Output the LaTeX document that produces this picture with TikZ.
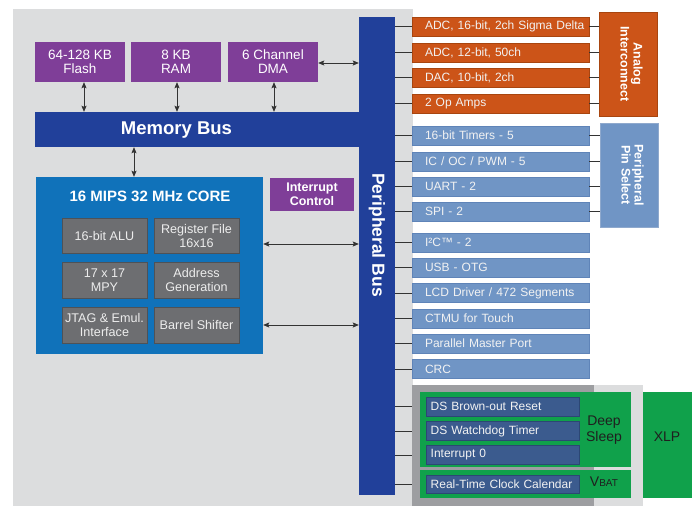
\documentclass[tikz,border=0pt]{standalone}
\usepackage{fontspec}
\setmainfont{Liberation Sans}
\usetikzlibrary{arrows.meta}
\definecolor{bggray}{HTML}{DCDDDE}
\definecolor{purp}{HTML}{7F3E98}
\definecolor{busblue}{HTML}{21409A}
\definecolor{coreblue}{HTML}{1072BA}
\definecolor{cgray}{HTML}{6D6E71}
\definecolor{cgrayb}{HTML}{4E5257}
\definecolor{orng}{HTML}{CC5418}
\definecolor{orngb}{HTML}{A8450F}
\definecolor{lblue}{HTML}{7095C5}
\definecolor{lblueb}{HTML}{5F84B8}
\definecolor{dgray}{HTML}{9D9EA1}
\definecolor{grn}{HTML}{10A14B}
\definecolor{dblue}{HTML}{3B5B8E}
\definecolor{dblueb}{HTML}{2C4774}
\definecolor{linec}{HTML}{333333}
\begin{document}
\begin{tikzpicture}[x=1pt,y=-1pt,
  pbox/.style={rectangle, inner sep=0pt, align=center, text=white, fill=purp,
    font=\fontsize{13.5}{14}\selectfont},
  bus/.style={rectangle, inner sep=0pt, fill=busblue},
  bustext/.style={text=white, font=\bfseries\fontsize{18.5}{18.5}\selectfont, inner sep=0pt},
  cbox/.style={rectangle, inner sep=0pt, align=center, text=white!93!black, fill=cgray,
    draw=cgrayb, line width=1pt, minimum width=85pt, minimum height=35pt,
    font=\fontsize{12.6}{14}\selectfont},
  rowbox/.style={rectangle, minimum width=177pt, minimum height=19pt, text width=177pt,
    inner xsep=0pt, inner ysep=0pt, align=left, text=white!95!black, line width=0.8pt,
    font=\fontsize{12}{12}\selectfont, execute at begin node={\hspace*{13pt}}},
  orow/.style={rowbox, fill=orng, draw=orngb},
  brow/.style={rowbox, fill=lblue, draw=lblueb},
  dsrow/.style={rectangle, minimum width=153pt, minimum height=19pt, text width=153pt,
    inner xsep=0pt, inner ysep=0pt, align=left, text=white!95!black, fill=dblue,
    draw=dblueb, line width=0.8pt, font=\fontsize{12}{12}\selectfont,
    execute at begin node={\hspace*{4.7pt}}},
  sidebox/.style={rectangle, inner sep=0pt, minimum width=58pt, minimum height=104pt, line width=0.8pt},
  sidetext/.style={rotate=-90, align=center, text=white, font=\bfseries\fontsize{12.5}{13}\selectfont},
  conn/.style={draw=linec, line width=1pt},
  darr/.style={draw=linec, line width=0.9pt, {Stealth[length=6pt,width=5pt,inset=1pt]}-{Stealth[length=6pt,width=5pt,inset=1pt]}},
  gtext/.style={text=black!88, inner sep=0pt, align=center, font=\fontsize{14}{16}\selectfont}
]
\useasboundingbox (0,0) rectangle (696,506);
% background
\fill[bggray] (13,9) rectangle (413,506);
\node[rectangle, fill=bggray, inner sep=0pt, minimum width=231pt, minimum height=121pt] (dsbg) at (527.5,445.5) {};
\node[rectangle, fill=dgray, inner sep=0pt, minimum width=182pt, minimum height=121pt] (dsreg) at (503,445.5) {};

% buses
\node[bus, minimum width=324pt, minimum height=35pt] (mbus) at (197,129.5) {};
\node[bus, minimum width=36pt, minimum height=478pt] (pbus) at (377,256) {};
\node[bustext] (mbustxt) at (176.5,130) {Memory Bus};
\node[bustext, rotate=-90, font=\bfseries\fontsize{17.5}{17.5}\selectfont] (pbustxt) at (377,235) {Peripheral Bus};

% memories
\node[pbox, minimum width=90pt, minimum height=40pt] (flash) at (80,62) {64-128 KB\\Flash};
\node[pbox, minimum width=90pt, minimum height=40pt] (ram) at (176,62) {8 KB\\RAM};
\node[pbox, minimum width=90pt, minimum height=40pt] (dma) at (273,62) {6 Channel\\DMA};

\draw[darr] ([xshift=4pt]flash.south) -- ([xshift=4pt]flash.south |- mbus.north);
\draw[darr] ([xshift=1pt]ram.south) -- ([xshift=1pt]ram.south |- mbus.north);
\draw[darr] ([xshift=1pt]dma.south) -- ([xshift=1pt]dma.south |- mbus.north);
\draw[darr] ([yshift=-1pt]dma.east) -- ([yshift=-1pt]pbus.west |- dma.east);

% core
\node[rectangle, fill=coreblue, inner sep=0pt, minimum width=227pt, minimum height=177pt] (core) at (149.5,265.5) {};
\node[text=white, inner sep=0pt, font=\bfseries\fontsize{15}{15}\selectfont] (coretitle) at (150,196) {16 MIPS 32 MHz CORE};
\node[cbox] (alu) at (104.5,235.5) {16-bit ALU};
\node[cbox] (regf) at (196.5,235.5) {Register File\\16x16};
\node[cbox, minimum height=36pt] (mpy) at (104.5,280) {17 x 17\\MPY};
\node[cbox, minimum height=36pt] (agen) at (196.5,280) {Address\\Generation};
\node[cbox, minimum height=36pt] (jtag) at (104.5,325) {JTAG \& Emul.\\Interface};
\node[cbox, minimum height=36pt] (bshift) at (196.5,325) {Barrel Shifter};

\node[pbox, minimum width=84pt, minimum height=33pt, font=\bfseries\fontsize{12.5}{14}\selectfont] (intc) at (312,194.5) {Interrupt\\Control};

\draw[darr] ([xshift=-15.5pt]core.north) -- ([xshift=-15.5pt]core.north |- mbus.south);
\draw[darr] ([yshift=21.5pt]core.east) -- ([yshift=21.5pt]pbus.west |- core.east);
\draw[darr] ([yshift=-59.5pt]core.east) -- ([yshift=-59.5pt]pbus.west |- core.east);

% analog peripherals
\node[orow] (adc16) at (500.5,26.5) {ADC, 16-bit, 2ch Sigma Delta};
\node[orow] (adc12) at (500.5,52.5) {ADC, 12-bit, 50ch};
\node[orow] (dac) at (500.5,77.5) {DAC, 10-bit, 2ch};
\node[orow] (opamp) at (500.5,103.5) {2 Op Amps};
\node[sidebox, fill=orng, draw=orngb] (analog) at (628,64) {};
\node[sidetext] (analogt) at (631.5,64) {Analog\\Interconnect};

% digital peripherals
\node[brow] (tmr) at (500.5,135.5) {16-bit Timers - 5};
\node[brow] (icoc) at (500.5,161.5) {IC / OC / PWM - 5};
\node[brow] (uart) at (500.5,186.5) {UART - 2};
\node[brow] (spi) at (500.5,211.5) {SPI - 2};
\node[brow] (i2c) at (500.5,242.5) {I²C™ - 2};
\node[brow] (usb) at (500.5,267.5) {USB - OTG};
\node[brow] (lcd) at (500.5,293) {LCD Driver / 472 Segments};
\node[brow] (ctmu) at (500.5,318.5) {CTMU for Touch};
\node[brow] (pmp) at (500.5,343.5) {Parallel Master Port};
\node[brow] (crc) at (500.5,369) {CRC};
\node[sidebox, fill=lblue, draw=lblueb!70!white] (pps) at (629,175) {};
\node[sidetext] (ppst) at (632.5,175) {Peripheral\\Pin Select};

% connectors
\foreach \n in {adc16,adc12,dac,opamp,tmr,icoc,uart,spi,i2c,usb,lcd,ctmu,pmp,crc}
  \draw[conn] (pbus.east |- \n.west) -- (\n.west);
\foreach \n in {adc16,adc12,dac,opamp}
  \draw[conn] (\n.east) -- (analog.west |- \n.east);
\foreach \n in {tmr,icoc,uart,spi}
  \draw[conn] (\n.east) -- (pps.west |- \n.east);

% deep sleep
\node[rectangle, fill=grn, inner sep=0pt, minimum width=211pt, minimum height=75pt] (dsleep) at (525.5,429.5) {};
\node[rectangle, fill=grn, inner sep=0pt, minimum width=211pt, minimum height=28pt] (vbat) at (525.5,484) {};
\node[rectangle, fill=grn, inner sep=0pt, minimum width=49pt, minimum height=106pt] (xlp) at (667.5,445) {};
\node[dsrow] (dsbor) at (502.5,406.5) {DS Brown-out Reset};
\node[dsrow] (dswdt) at (502.5,431) {DS Watchdog Timer};
\node[dsrow] (int0) at (502.5,455) {Interrupt 0};
\node[dsrow, minimum height=18pt] (rtcc) at (502.5,484) {Real-Time Clock Calendar};
\node[gtext] (dst) at (604,430) {Deep\\Sleep};
\node[gtext] (vbt) at (604,482) {V{\fontsize{10}{10}\selectfont BAT}};
\node[gtext] (xlpt) at (667,437) {XLP};
\foreach \n in {dsbor,dswdt,int0,rtcc}
  \draw[conn] (pbus.east |- \n.west) -- (dsreg.west |- \n.west);
\end{tikzpicture}
\end{document}
